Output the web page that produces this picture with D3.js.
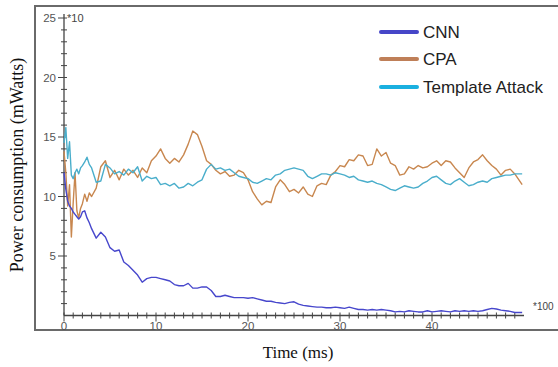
<!DOCTYPE html>
<meta charset="utf-8">
<script src="https://d3js.org/d3.v7.min.js"></script>
<style>
  body { margin: 0; background: #fff; }
</style>
<div id="chart"></div>
<script>
// time axis (units of *100 ms)
var time = [0, 0.2, 0.4, 0.6, 0.8, 1, 1.2, 1.4, 1.6, 1.8, 2, 2.25, 2.5, 2.75,
  3, 3.5, 4, 4.5, 5, 5.5, 6, 6.5, 7, 7.5, 8, 8.5, 9, 9.5,
  10, 10.5, 11, 11.5, 12, 12.5, 13, 13.5, 14, 14.5, 15, 15.5, 16, 16.5, 17, 17.5, 18, 18.5, 19, 19.5,
  20, 20.5, 21, 21.5, 22, 22.5, 23, 23.5, 24, 24.5, 25, 25.5, 26, 26.5, 27, 27.5, 28, 28.5, 29, 29.5,
  30, 30.5, 31, 31.5, 32, 32.5, 33, 33.5, 34, 34.5, 35, 35.5, 36, 36.5, 37, 37.5, 38, 38.5, 39, 39.5,
  40, 40.5, 41, 41.5, 42, 42.5, 43, 43.5, 44, 44.5, 45, 45.5, 46, 46.5, 47, 47.5, 48, 48.5, 49, 49.8];

var cnn = [12.0, 10.6, 9.6, 9.2, 9.0, 8.7, 8.5, 8.3, 8.1, 8.3, 8.7, 8.8, 8.2, 7.8,
  7.3, 6.5, 7.0, 6.6, 5.7, 5.4, 5.5, 4.5, 4.2, 3.8, 3.4, 2.8, 3.1, 3.2,
  3.2, 3.1, 3.0, 2.9, 2.6, 2.5, 2.5, 2.7, 2.3, 2.3, 2.4, 2.4, 2.1, 1.6, 1.6, 1.7, 1.6, 1.5, 1.5, 1.5,
  1.45, 1.5, 1.4, 1.3, 1.2, 1.2, 1.1, 1.05, 1.0, 1.1, 1.15, 0.95, 0.85, 0.8, 0.75, 0.7, 0.7, 0.65, 0.65, 0.7,
  0.65, 0.6, 0.7, 0.6, 0.5, 0.5, 0.45, 0.5, 0.45, 0.5, 0.45, 0.4, 0.3, 0.35, 0.3, 0.4, 0.35, 0.3, 0.3, 0.4,
  0.3, 0.35, 0.4, 0.35, 0.3, 0.4, 0.35, 0.4, 0.35, 0.4, 0.35, 0.4, 0.5, 0.6, 0.55, 0.45, 0.4, 0.35, 0.25, 0.25];

var cpa = [13.8, 12.0, 9.2, 11.0, 6.6, 9.5, 12.0, 8.8, 8.2, 9.0, 9.4, 10.2, 9.6, 10.3,
  10.0, 10.7, 12.5, 13.0, 11.6, 12.2, 11.4, 12.3, 11.8, 12.2, 11.6, 12.4, 12.0, 13.0,
  13.4, 14.0, 13.2, 12.8, 13.2, 12.9, 13.5, 14.4, 15.5, 15.2, 14.2, 13.0, 12.7, 12.2, 11.9, 12.1, 11.7, 11.8, 12.2, 12.0,
  11.4, 10.4, 9.8, 9.3, 9.6, 9.5, 10.8, 11.4, 11.0, 10.4, 10.6, 10.3, 10.8, 10.2, 10.0, 10.9, 11.1, 11.0, 11.8, 12.1,
  12.6, 12.5, 13.1, 13.0, 13.5, 13.4, 12.6, 12.7, 14.0, 13.4, 13.7, 12.8, 12.6, 11.8, 11.9, 12.5, 12.3, 12.6, 12.4, 12.5,
  12.8, 13.0, 12.6, 13.0, 12.9, 12.4, 12.0, 11.6, 12.4, 12.9, 13.1, 13.5, 13.0, 12.6, 12.3, 11.8, 12.2, 12.3, 11.9, 11.0];

var template = [14.5, 15.8, 13.2, 14.6, 11.8, 11.5, 12.0, 12.3, 11.9, 12.4, 12.6, 12.9, 13.3, 12.7,
  12.4, 11.2, 11.3, 12.7, 12.4, 11.9, 12.1, 11.8, 12.3, 12.0, 12.5, 11.3, 11.7, 11.5,
  11.6, 11.0, 11.1, 10.9, 11.1, 10.7, 10.8, 11.1, 10.9, 11.2, 11.4, 12.3, 12.7, 12.3, 12.4, 12.2, 12.3, 12.0, 11.7, 11.6,
  11.5, 11.2, 11.1, 11.3, 11.5, 11.4, 11.8, 11.9, 12.2, 12.3, 12.4, 12.3, 12.2, 11.7, 11.5, 11.7, 11.9, 11.9, 11.8, 12.0,
  11.9, 11.8, 11.6, 11.7, 11.4, 11.3, 11.2, 11.3, 11.1, 11.0, 10.8, 10.6, 10.5, 10.7, 10.9, 10.8, 10.7, 10.8, 11.1, 11.3,
  11.6, 11.7, 11.4, 11.1, 11.0, 11.3, 11.5, 11.2, 10.9, 11.0, 11.2, 11.3, 11.2, 11.5, 11.6, 11.7, 11.8, 11.8, 11.9, 11.9];

var seriesNames = ["CNN", "CPA", "Template Attack"];
var lineColors = ["#4747cc", "#c8874f", "#4aaecb"];
var legendColors = ["#4646c8", "#bf7f58", "#1ab0e0"];
var xTickLabels = [0, 10, 20, 30, 40];
var yTickLabels = [5, 10, 15, 20, 25];

var W = 558, H = 367;

var svg = d3.select("#chart")
  .append("svg")
    .attr("width", W)
    .attr("height", H);

// outer frame
svg.append("rect")
  .attr("x", 35).attr("y", 6)
  .attr("width", 540).attr("height", 324)
  .attr("fill", "none")
  .attr("stroke", "#6a6a6a")
  .attr("stroke-width", 2);

var x = d3.scaleLinear().domain([0, 50]).range([64, 524]);
var y = d3.scaleLinear().domain([0, 25]).range([315.5, 18]);

var axisColor = "#444";

// x axis
var gx = svg.append("g").attr("transform", "translate(0," + y(0) + ")");
gx.append("line").attr("x1", x(0)).attr("x2", x(50))
  .attr("stroke", axisColor).attr("stroke-width", 1.3);
gx.selectAll(".minor").data(d3.range(0, 50)).enter().append("line")
  .attr("x1", d => x(d)).attr("x2", d => x(d))
  .attr("y1", -3).attr("y2", d => d % 10 === 0 ? 6 : 3)
  .attr("stroke", axisColor).attr("stroke-width", 1);
gx.selectAll(".lab").data(xTickLabels).enter().append("text")
  .attr("x", d => x(d)).attr("y", 14)
  .attr("text-anchor", "middle")
  .attr("font-family", "Liberation Sans, Arial, sans-serif")
  .attr("font-size", 11.5).attr("fill", "#555")
  .text(d => d);

// y axis
var gy = svg.append("g").attr("transform", "translate(" + x(0) + ",0)");
gy.append("line").attr("y1", y(0)).attr("y2", 14)
  .attr("stroke", axisColor).attr("stroke-width", 1.3);
gy.selectAll(".minor").data(d3.range(1, 26)).enter().append("line")
  .attr("y1", d => y(d)).attr("y2", d => y(d))
  .attr("x1", d => d % 5 === 0 ? -6 : -3).attr("x2", 3)
  .attr("stroke", axisColor).attr("stroke-width", 1);
gy.selectAll(".lab").data(yTickLabels).enter().append("text")
  .attr("x", -8).attr("y", d => y(d) + 4)
  .attr("text-anchor", "end")
  .attr("font-family", "Liberation Sans, Arial, sans-serif")
  .attr("font-size", 11.5).attr("fill", "#555")
  .text(d => d);

// multipliers
svg.append("text").attr("x", 67).attr("y", 22)
  .attr("font-family", "Liberation Sans, Arial, sans-serif")
  .attr("font-size", 11).attr("fill", "#444").text("*10");
svg.append("text").attr("x", 533).attr("y", 310)
  .attr("font-family", "Liberation Sans, Arial, sans-serif")
  .attr("font-size", 10).attr("fill", "#444").text("*100");

// lines
var seriesData = [cnn, cpa, template];
var line = d3.line()
  .x((d, i) => x(time[i]))
  .y(d => y(d));

[1, 2, 0].forEach(function(k) {
  svg.append("path")
    .datum(seriesData[k])
    .attr("d", line)
    .attr("fill", "none")
    .attr("stroke", lineColors[k])
    .attr("stroke-width", 1.4)
    .attr("stroke-linejoin", "round");
});

// legend
var legendY = [32, 59, 87];
seriesNames.forEach(function(name, i) {
  svg.append("line")
    .attr("x1", 381).attr("x2", 417)
    .attr("y1", legendY[i]).attr("y2", legendY[i])
    .attr("stroke", legendColors[i])
    .attr("stroke-width", 4)
    .attr("stroke-linecap", "round");
  svg.append("text")
    .attr("x", 423).attr("y", legendY[i] + 6)
    .attr("font-family", "Liberation Sans, Arial, sans-serif")
    .attr("font-size", 17).attr("fill", "#222")
    .text(name);
});

// axis titles
svg.append("text")
  .attr("transform", "translate(23,165) rotate(-90)")
  .attr("text-anchor", "middle")
  .attr("font-family", "Liberation Serif, Times New Roman, serif")
  .attr("font-size", 18).attr("fill", "#111")
  .text("Power consumption (mWatts)");
svg.append("text")
  .attr("x", 298).attr("y", 358)
  .attr("text-anchor", "middle")
  .attr("font-family", "Liberation Serif, Times New Roman, serif")
  .attr("font-size", 17).attr("fill", "#111")
  .text("Time (ms)");
</script>
